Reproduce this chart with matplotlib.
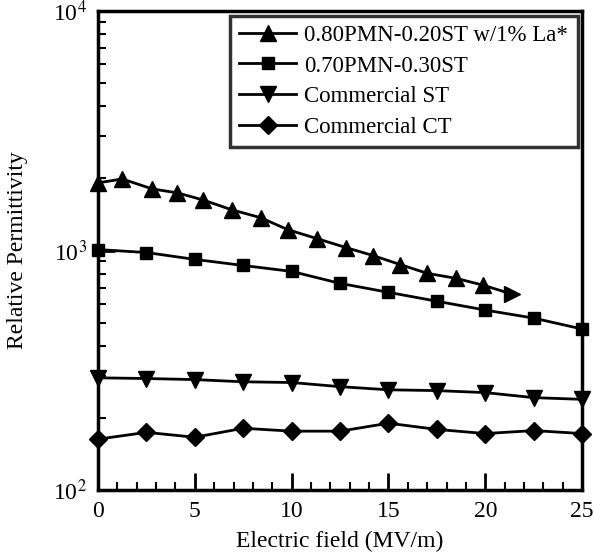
import matplotlib
matplotlib.use('Agg')
import matplotlib.pyplot as plt
from matplotlib.ticker import LogLocator, MultipleLocator, NullFormatter

plt.rcParams['font.family'] = ['Liberation Serif', 'DejaVu Serif']
plt.rcParams['mathtext.fontset'] = 'stix'

# data
la_field = [0, 1.25, 2.8, 4.1, 5.4, 6.9, 8.4, 9.8, 11.3, 12.8, 14.2, 15.6,
            17.0, 18.5, 19.9]
la_perm = [1916, 1990, 1808, 1741, 1628, 1480, 1371, 1222, 1122, 1029, 953,
           874, 803, 765, 716]
la_arrow_field = [21.4]
la_arrow_perm = [657]

field = [0, 2.5, 5, 7.5, 10, 12.5, 15, 17.5, 20, 22.5, 25]
pmn_perm = [1009, 981, 918, 866, 818, 729, 669, 614, 564, 522, 470]
st_perm = [294, 292, 289, 283, 281, 270, 262, 260, 255, 243, 239]
ct_perm = [163, 174, 166, 181, 176, 176, 190, 179, 172, 177, 172]

labels = ['0.80PMN-0.20ST w/1% La*', '0.70PMN-0.30ST',
          'Commercial ST', 'Commercial CT']
x_ticks = [0, 5, 10, 15, 20, 25]


def main() -> None:
    fig = plt.figure(figsize=(5.94, 5.53), dpi=100)
    ax = fig.add_axes([0.165, 0.114, 0.815, 0.866])

    lw = 2.0
    ax.plot(la_field, la_perm, 'k-^', lw=lw, ms=12, label=labels[0],
            clip_on=False, zorder=3)
    ax.plot([la_field[-1], la_arrow_field[0]], [la_perm[-1], la_arrow_perm[0]],
            'k-', lw=lw)
    ax.plot(la_arrow_field, la_arrow_perm, 'k>', ms=12, clip_on=False)
    ax.plot(field, pmn_perm, 'k-s', lw=lw, ms=9, label=labels[1],
            clip_on=False, zorder=3)
    ax.plot(field, st_perm, 'k-v', lw=lw, ms=12, label=labels[2],
            clip_on=False, zorder=3)
    ax.plot(field, ct_perm, 'k-D', lw=lw, ms=9, label=labels[3],
            clip_on=False, zorder=3)

    ax.set_yscale('log')
    ax.set_xlim(0, 25)
    ax.set_ylim(100, 10000)

    ax.set_xticks(x_ticks)
    ax.xaxis.set_minor_locator(MultipleLocator(1))
    ax.yaxis.set_major_locator(LogLocator(base=10))
    ax.yaxis.set_minor_locator(LogLocator(base=10, subs=range(2, 10)))
    ax.yaxis.set_minor_formatter(NullFormatter())
    ax.set_yticks([100, 1000, 10000])
    ax.set_yticklabels(['10$^2$', '10$^3$', '10$^4$'])

    ax.tick_params(which='major', direction='in', length=12, width=2,
                   labelsize=17, top=False, right=False, pad=8)
    ax.tick_params(which='minor', direction='in', length=6, width=1.5,
                   top=False, right=False)
    for spine in ax.spines.values():
        spine.set_linewidth(2.5)

    ax.set_xlabel('Electric field (MV/m)', fontsize=17, labelpad=6)
    ax.set_ylabel('Relative Permittivity', fontsize=17, labelpad=18)

    leg = ax.legend(loc='upper right', fontsize=16.5, frameon=True,
                    fancybox=False, edgecolor='black', borderaxespad=0.2,
                    handlelength=2.5, handletextpad=0.35, labelspacing=0.42,
                    borderpad=0.4)
    leg.get_frame().set_linewidth(2.5)

    fig.savefig('out.png', dpi=100)


if __name__ == '__main__':
    main()
